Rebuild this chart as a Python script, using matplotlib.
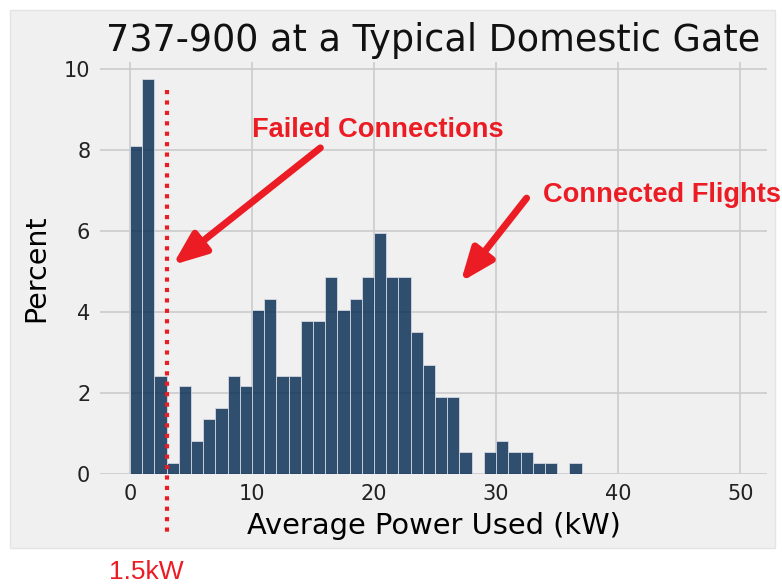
import matplotlib
matplotlib.use("Agg")
import matplotlib.pyplot as plt
from matplotlib.patches import Rectangle
import numpy as np

# histogram bins (kW), 1 kW wide
bin_left = np.arange(0, 37)
# percent of flights per bin
percent = [8.10, 9.75, 2.43, 0.27, 2.16, 0.81, 1.35, 1.62, 2.43, 2.16,
           4.05, 4.32, 2.43, 2.43, 3.78, 3.78, 4.86, 4.05, 4.32, 4.86,
           5.95, 4.86, 4.86, 3.51, 2.70, 1.89, 1.89, 0.54, 0.00, 0.54,
           0.81, 0.54, 0.54, 0.27, 0.27, 0.00, 0.27]

x_ticks = [0, 10, 20, 30, 40, 50]
y_ticks = [0, 2, 4, 6, 8, 10]
cutoff = 3.0   # where the dotted marker was drawn
red = "#ec1c24"

plt.style.use("fivethirtyeight")
fig = plt.figure(figsize=(7.82, 5.87), dpi=100, facecolor="white")

# grey panel behind the plot (the lower strip stays white)
panel = Rectangle((10 / 782, 1 - 548 / 587), 765 / 782, 538 / 587,
                  transform=fig.transFigure, facecolor="#f0f0f0",
                  edgecolor="#e4e4e4", lw=1, zorder=-10)
fig.patches.append(panel)

ax = fig.add_axes([100 / 782, 1 - 474 / 587, 667 / 782, 412 / 587])
ax.set_zorder(1)
ax.set_facecolor("#f0f0f0")
ax.bar(bin_left, percent, width=1, align="edge", color=(0.0, 0.150, 0.3),
       alpha=0.8, edgecolor="#d8dde6", linewidth=0.7, zorder=2)

ax.set_xlim(-2.46, 52.2)
ax.set_ylim(0, 10.17)
ax.set_xticks(x_ticks)
ax.set_yticks(y_ticks)
ax.tick_params(labelsize=15, colors="#222222", length=0, pad=7)
ax.grid(True, color="#cbcbcb", lw=1.2)
ax.set_axisbelow(True)
for s in ax.spines.values():
    s.set_visible(False)

ax.set_title("737-900 at a Typical Domestic Gate", fontsize=26.3, pad=8,
             color="#111111")
ax.set_xlabel("Average Power Used (kW)", fontsize=20.8, labelpad=6)
ax.set_ylabel("Percent", fontsize=20.5, labelpad=10)

# dotted cut-off line, running past the axis
ax.plot([cutoff, cutoff], [9.48, -1.5], color=red, lw=3,
        linestyle=(0, (1, 1.5)), clip_on=False, zorder=5,
        solid_capstyle="butt", dash_capstyle="butt")

arrow = dict(arrowstyle="-|>,head_length=1.0,head_width=0.4", lw=5,
             color=red, shrinkA=0, shrinkB=0, mutation_scale=20)
ax.annotate("", xy=(3.5, 5.16), xytext=(15.6, 8.05), arrowprops=arrow, zorder=6)
ax.annotate("", xy=(27.1, 4.74), xytext=(32.5, 6.81), arrowprops=arrow, zorder=6)

ax.text(20.3, 8.49, "Failed Connections", color=red, fontsize=19.6,
        fontweight="bold", family="Liberation Sans", ha="center", va="center")
ax.text(33.85, 6.89, "Connected Flights", color=red, fontsize=19.6,
        fontweight="bold", family="Liberation Sans", ha="left", va="center",
        clip_on=False)

fig.text(146 / 782, 1 - 572 / 587, "1.5kW", color=red, fontsize=19,
         family="Liberation Sans", ha="center", va="center")

fig.savefig("out.png", dpi=100, facecolor="white")
